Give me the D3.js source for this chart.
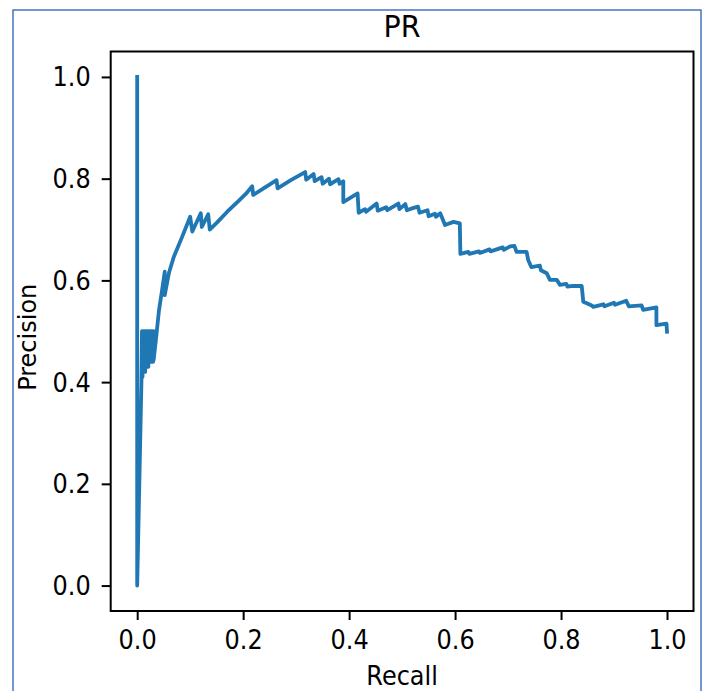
<!DOCTYPE html>
<html>
<head>
<meta charset="utf-8">
<script src="https://cdn.jsdelivr.net/npm/d3@7"></script>
<style>
  body { margin: 0; background: #fff; }
  svg text { font-family: "DejaVu Sans", sans-serif; fill: #000; }
</style>
</head>
<body>
<div id="chart"></div>
<script>
// PR curve points (ordered by recall)
const recall = [
  0, 0, 0.008, 0.009, 0.010, 0.012, 0.012, 0.014, 0.015, 0.017, 0.018, 0.020,
  0.021, 0.023, 0.024, 0.026, 0.027, 0.029, 0.030, 0.031, 0.031, 0.036, 0.041,
  0.047, 0.052, 0.052, 0.060, 0.069, 0.085, 0.100, 0.104, 0.120, 0.122, 0.134,
  0.137, 0.150, 0.170, 0.190, 0.205, 0.217, 0.219, 0.240, 0.263, 0.265, 0.290,
  0.317, 0.319, 0.333, 0.335, 0.348, 0.350, 0.362, 0.364, 0.380, 0.382, 0.389,
  0.389, 0.416, 0.418, 0.430, 0.432, 0.452, 0.454, 0.470, 0.472, 0.493, 0.495,
  0.506, 0.509, 0.520, 0.530, 0.533, 0.548, 0.550, 0.562, 0.564, 0.572, 0.581,
  0.597, 0.609, 0.610, 0.625, 0.627, 0.645, 0.647, 0.665, 0.667, 0.690, 0.692,
  0.704, 0.712, 0.716, 0.735, 0.738, 0.744, 0.760, 0.762, 0.773, 0.779, 0.792,
  0.798, 0.810, 0.812, 0.823, 0.839, 0.842, 0.857, 0.861, 0.880, 0.882, 0.900,
  0.902, 0.923, 0.928, 0.952, 0.955, 0.980, 0.980, 0.999, 1.0
];
const precision = [
  1.0, 0.0, 0.40, 0.50, 0.41, 0.50, 0.42, 0.50, 0.42, 0.50, 0.43, 0.50,
  0.43, 0.50, 0.44, 0.50, 0.44, 0.50, 0.44, 0.50, 0.443, 0.49, 0.54,
  0.581, 0.617, 0.571, 0.615, 0.646, 0.686, 0.725, 0.696, 0.732, 0.705, 0.730,
  0.700, 0.713, 0.735, 0.755, 0.770, 0.785, 0.768, 0.782, 0.797, 0.781, 0.797,
  0.813, 0.798, 0.809, 0.795, 0.803, 0.790, 0.800, 0.789, 0.799, 0.790, 0.795,
  0.754, 0.771, 0.733, 0.740, 0.735, 0.751, 0.737, 0.744, 0.738, 0.751, 0.740,
  0.750, 0.738, 0.742, 0.745, 0.733, 0.738, 0.726, 0.731, 0.725, 0.732, 0.709,
  0.715, 0.712, 0.652, 0.656, 0.652, 0.657, 0.654, 0.661, 0.657, 0.665, 0.660,
  0.667, 0.668, 0.656, 0.656, 0.640, 0.626, 0.629, 0.620, 0.614, 0.601, 0.601,
  0.591, 0.593, 0.588, 0.589, 0.589, 0.558, 0.551, 0.548, 0.553, 0.549, 0.556,
  0.552, 0.560, 0.549, 0.551, 0.542, 0.547, 0.512, 0.515, 0.499
];
const xTicks = [0.0, 0.2, 0.4, 0.6, 0.8, 1.0];
const yTicks = [0.0, 0.2, 0.4, 0.6, 0.8, 1.0];

const width = 707;
const height = 691;
const plot = { left: 110.7, right: 693.5, top: 51.5, bottom: 611 };

const svg = d3.select('#chart').append('svg')
  .attr('width', width)
  .attr('height', height);

// outer frame of the screenshot
svg.append('rect')
  .attr('x', 13)
  .attr('y', 10)
  .attr('width', 688)
  .attr('height', 700)
  .attr('fill', 'none')
  .attr('stroke', '#4a72c0')
  .attr('stroke-width', 1.5);

const x = d3.scaleLinear().domain([-0.05, 1.05]).range([plot.left, plot.right]);
const y = d3.scaleLinear().domain([-0.05, 1.05]).range([plot.bottom, plot.top]);

const data = recall.map((r, i) => ({ r: r, p: precision[i] }));

const line = d3.line()
  .x(d => x(d.r))
  .y(d => y(d.p));

svg.append('path')
  .datum(data)
  .attr('fill', 'none')
  .attr('stroke', '#1f77b4')
  .attr('stroke-width', 3.8)
  .attr('stroke-linejoin', 'round')
  .attr('stroke-linecap', 'square')
  .attr('d', line);

const xAxis = d3.axisBottom(x)
  .tickValues(xTicks)
  .tickFormat(d3.format('.1f'))
  .tickSize(9)
  .tickSizeOuter(0)
  .tickPadding(11);

const yAxis = d3.axisLeft(y)
  .tickValues(yTicks)
  .tickFormat(d3.format('.1f'))
  .tickSize(9)
  .tickSizeOuter(0)
  .tickPadding(11);

const gx = svg.append('g')
  .attr('transform', `translate(0, ${plot.bottom})`)
  .call(xAxis);

const gy = svg.append('g')
  .attr('transform', `translate(${plot.left}, 0)`)
  .call(yAxis);

[gx, gy].forEach(g => {
  g.select('.domain').remove();
  g.selectAll('.tick line').attr('stroke', '#000').attr('stroke-width', 2);
  g.selectAll('.tick text').attr('font-size', 24).attr('fill', '#000');
});

// stretch the glyphs slightly, like the picture
gx.selectAll('.tick text')
  .attr('y', null)
  .attr('dy', null)
  .attr('transform', 'translate(0, 38) scale(1, 1.08)');

gy.selectAll('.tick text')
  .attr('x', null)
  .attr('dy', null)
  .attr('transform', 'translate(-20, 9) scale(1, 1.08)');

// axes frame
svg.append('rect')
  .attr('x', plot.left)
  .attr('y', plot.top)
  .attr('width', plot.right - plot.left)
  .attr('height', plot.bottom - plot.top)
  .attr('fill', 'none')
  .attr('stroke', '#000')
  .attr('stroke-width', 2);

const cx = (plot.left + plot.right) / 2;

svg.append('text')
  .attr('text-anchor', 'middle')
  .attr('font-size', 28.5)
  .attr('transform', `translate(${cx}, 37) scale(1, 1.08)`)
  .text('PR');

svg.append('text')
  .attr('text-anchor', 'middle')
  .attr('font-size', 24)
  .attr('transform', `translate(${cx}, 685) scale(1, 1.08)`)
  .text('Recall');

svg.append('text')
  .attr('text-anchor', 'middle')
  .attr('font-size', 24)
  .attr('transform', `translate(36, ${(plot.top + plot.bottom) / 2 + 6}) rotate(-90)`)
  .text('Precision');
</script>
</body>
</html>
